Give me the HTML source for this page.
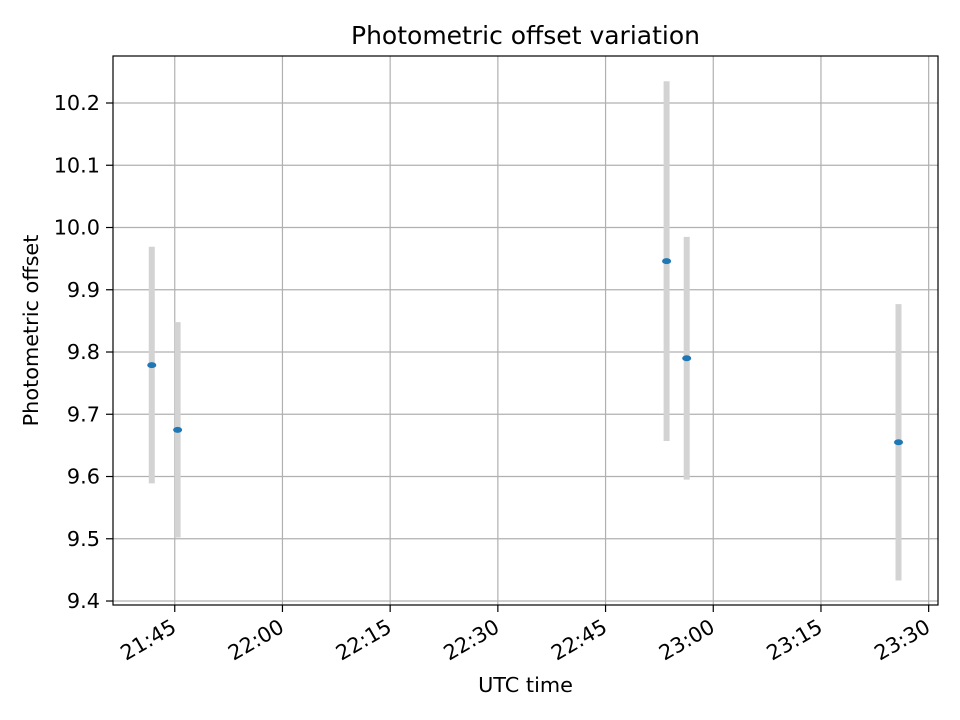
<!DOCTYPE html>
<html><head><meta charset="utf-8"><style>
body{margin:0;background:#fff;}
svg{display:block;font-family:"DejaVu Sans","Liberation Sans",sans-serif;}
</style></head><body>
<svg id="chart" width="960" height="720"></svg>
<script>
const times = ["21:41:48","21:45:24","22:53:30","22:56:18","23:25:48"];
const values = [9.779, 9.675, 9.946, 9.790, 9.655];
const errors = [0.19, 0.173, 0.289, 0.195, 0.222];
const yTicks = [9.4, 9.5, 9.6, 9.7, 9.8, 9.9, 10.0, 10.1, 10.2];
const xTickLabels = ["21:45","22:00","22:15","22:30","22:45","23:00","23:15","23:30"];

const NS="http://www.w3.org/2000/svg";
const svg=document.getElementById('chart');
const L=113,R=938,T=56,B=605;
const xMin=21*60+36.4, xMax=23*60+31.3, yMin=9.3936, yMax=10.2755;
function toMin(s){const p=s.split(':').map(Number);return p[0]*60+p[1]+(p[2]||0)/60;}
function X(m){return L+(m-xMin)/(xMax-xMin)*(R-L);}
function Y(v){return B-(v-yMin)/(yMax-yMin)*(B-T);}
function el(tag,attrs,parent){const e=document.createElementNS(NS,tag);for(const k in attrs)e.setAttribute(k,attrs[k]);(parent||svg).appendChild(e);return e;}

yTicks.forEach(v=>{
  const y=Y(v);
  const g=el('line',{x1:L,x2:R,y1:y,y2:y,stroke:'#b0b0b0','stroke-width':1.2});
  
  
  el('line',{x1:L-7,x2:L,y1:y,y2:y,stroke:'#000','stroke-width':1.2});
  const t=el('text',{x:L-13,y:y+7,'text-anchor':'end','font-size':20.8});
  t.textContent=v.toFixed(1);
  
  
});
xTickLabels.forEach(s=>{
  const x=X(toMin(s));
  const g=el('line',{x1:x,x2:x,y1:T,y2:B,stroke:'#b0b0b0','stroke-width':1.2});
  
  
  el('line',{x1:x,x2:x,y1:B,y2:B+7,stroke:'#000','stroke-width':1.2});
  const ax=x+3, ay=B+26;
  const t=el('text',{x:ax,y:ay,'text-anchor':'end','font-size':20.8,transform:`rotate(-30 ${ax} ${ay})`});
  t.textContent=s;
  
  
});
times.forEach((s,i)=>{
  const x=X(toMin(s));
  const e=el('line',{x1:x,x2:x,y1:Y(values[i]+errors[i]),y2:Y(values[i]-errors[i]),stroke:'#d3d3d3','stroke-width':6});
  
  
});
times.forEach((s,i)=>{
  const p=el('ellipse',{cx:X(toMin(s)),cy:Y(values[i]),rx:4.5,ry:3,fill:'#1f77b4'});
  
  
});
const f=el('rect',{x:L,y:T,width:R-L,height:B-T,fill:'none',stroke:'#000','stroke-width':1.2});


const ti=el('text',{x:(L+R)/2,y:44,'text-anchor':'middle','font-size':25});
ti.textContent='Photometric offset variation';


const xl=el('text',{x:(L+R)/2,y:692,'text-anchor':'middle','font-size':20.8});
xl.textContent='UTC time';


const yx=38, yy=(T+B)/2;
const yl=el('text',{x:yx,y:yy,'text-anchor':'middle','font-size':20.8,transform:`rotate(-90 ${yx} ${yy})`});
yl.textContent='Photometric offset';


</script>
</body></html>
